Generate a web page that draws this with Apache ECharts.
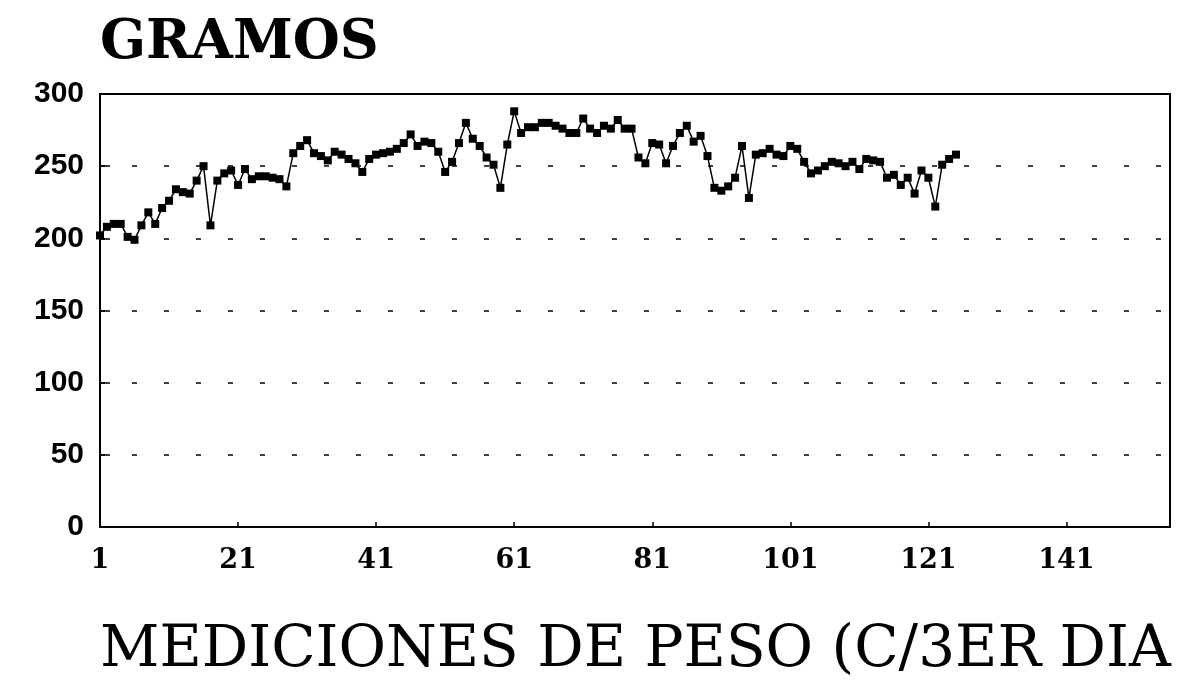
<!DOCTYPE html>
<html>
<head>
<meta charset="utf-8">
<script src="https://cdn.jsdelivr.net/npm/echarts@6/dist/echarts.min.js"></script>
<style>
  html, body { margin: 0; padding: 0; background: #fff; }
  #chart { width: 1199px; height: 681px; }
</style>
</head>
<body>
<div id="chart"></div>
<script>
// peso en gramos, una medición cada tercer día (1..125)
const gramos = [
  202, 208, 210, 210, 201, 199, 209, 218, 210, 221,
  226, 234, 232, 231, 240, 250, 209, 240, 245, 247,
  237, 248, 241, 243, 243, 242, 241, 236, 259, 264,
  268, 259, 257, 254, 260, 258, 255, 252, 246, 255,
  258, 259, 260, 262, 266, 272, 264, 267, 266, 260,
  246, 253, 266, 280, 269, 264, 256, 251, 235, 265,
  288, 273, 277, 277, 280, 280, 278, 276, 273, 273,
  283, 276, 273, 278, 276, 282, 276, 276, 256, 252,
  266, 265, 252, 264, 273, 278, 267, 271, 257, 235,
  233, 236, 242, 264, 228, 258, 259, 262, 258, 257,
  264, 262, 253, 245, 247, 250, 253, 252, 250, 253,
  248, 255, 254, 253, 242, 244, 237, 242, 231, 247,
  242, 222, 251, 255, 258
]
const yTitle = 'GRAMOS'
const xTitle = 'MEDICIONES DE PESO (C/3ER DIA'
const xMax = 155   // índice 0-based del borde derecho (medición 156)

const serif = '"DejaVu Serif", "Liberation Serif", serif'
const chart = echarts.init(document.getElementById('chart'))

chart.setOption({
  animation: false,
  backgroundColor: '#fff',
  grid: { left: 100, right: 29, top: 94, bottom: 154, show: true,
    borderColor: '#000', borderWidth: 2 },
  graphic: [
    { type: 'text', left: 100, top: 17,
      style: { text: yTitle, font: 'bold 54px ' + serif, fill: '#000' } },
    { type: 'text', left: 100, top: 622,
      style: { text: xTitle, font: '58px ' + serif, fill: '#000' } },
  ],
  xAxis: {
    type: 'value', min: 0, max: xMax, interval: 20,
    axisLine: { lineStyle: { color: '#000', width: 2 } },
    axisTick: { inside: true, length: 5, lineStyle: { color: '#000', width: 1.5 } },
    axisLabel: { color: '#000', fontFamily: serif, fontWeight: 'bold', fontSize: 27,
      margin: 20, showMaxLabel: false, formatter: (v) => String(v + 1) },
    splitLine: { show: false },
  },
  yAxis: {
    type: 'value', min: 0, max: 300, interval: 50,
    axisLine: { show: true, lineStyle: { color: '#000', width: 2 } },
    axisTick: { show: true, inside: true, length: 10, lineStyle: { color: '#000', width: 1.5 } },
    axisLabel: { color: '#000', fontFamily: '"Liberation Sans", Arial, sans-serif',
      fontWeight: 'bold', fontSize: 30, margin: 16 },
    splitLine: { show: true, lineStyle: { color: '#000', width: 1.5, type: [5, 27] } },
  },
  series: [{
    type: 'line',
    data: gramos.map((v, i) => [i, v]),
    symbol: 'rect', symbolSize: 8,
    lineStyle: { color: '#000', width: 1.5 },
    itemStyle: { color: '#000' },
  }],
})
</script>
</body>
</html>
